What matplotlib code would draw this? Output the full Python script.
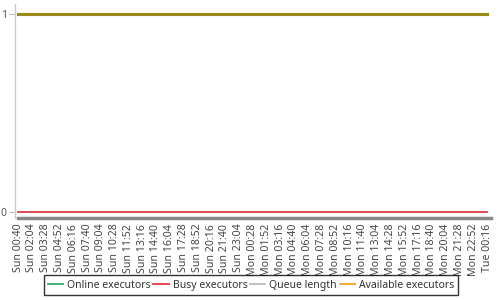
import matplotlib
matplotlib.use("Agg")
import matplotlib.pyplot as plt
from matplotlib.lines import Line2D

plt.rcParams['font.family'] = ['Noto Sans', 'DejaVu Sans']

labels = ["Sun 00:40", "Sun 02:04", "Sun 03:28", "Sun 04:52", "Sun 06:16", "Sun 07:40",
          "Sun 09:04", "Sun 10:28", "Sun 11:52", "Sun 13:16", "Sun 14:40", "Sun 16:04",
          "Sun 17:28", "Sun 18:52", "Sun 20:16", "Sun 21:40", "Sun 23:04", "Mon 00:28",
          "Mon 01:52", "Mon 03:16", "Mon 04:40", "Mon 06:04", "Mon 07:28", "Mon 08:52",
          "Mon 10:16", "Mon 11:40", "Mon 13:04", "Mon 14:28", "Mon 15:52", "Mon 17:16",
          "Mon 18:40", "Mon 20:04", "Mon 21:28", "Mon 22:52", "Tue 00:16"]
online = [1, 1, 1, 1, 1, 1, 1, 1, 1, 1, 1, 1, 1, 1, 1, 1, 1, 1,
          1, 1, 1, 1, 1, 1, 1, 1, 1, 1, 1, 1, 1, 1, 1, 1, 1]
busy = [0, 0, 0, 0, 0, 0, 0, 0, 0, 0, 0, 0, 0, 0, 0, 0, 0, 0,
        0, 0, 0, 0, 0, 0, 0, 0, 0, 0, 0, 0, 0, 0, 0, 0, 0]
queue = [0, 0, 0, 0, 0, 0, 0, 0, 0, 0, 0, 0, 0, 0, 0, 0, 0, 0,
         0, 0, 0, 0, 0, 0, 0, 0, 0, 0, 0, 0, 0, 0, 0, 0, 0]
available = [1, 1, 1, 1, 1, 1, 1, 1, 1, 1, 1, 1, 1, 1, 1, 1, 1, 1,
             1, 1, 1, 1, 1, 1, 1, 1, 1, 1, 1, 1, 1, 1, 1, 1, 1]
series_names = ["Online executors", "Busy executors", "Queue length", "Available executors"]
colors = ["#3aaa6a", "#e0383e", "#bbbbbb", "#f2a51a"]

fig = plt.figure(figsize=(5, 3), dpi=100)
ax = fig.add_axes([0.03, 0.273, 0.952, 0.714])
x = list(range(len(labels)))

ax.plot(x, queue, color=colors[2], lw=1.2)
ax.plot(x, busy, color=colors[1], lw=1.2)
ax.plot(x, available, color=colors[3], lw=2.2)
# overlapping online + available appear olive
ax.plot(x, online, color="#9a8a18", lw=2.2)

ax.set_xlim(-0.22, 34.29)
ax.set_ylim(-0.03, 1.05)
ax.set_yticks([0, 1])
ax.set_yticklabels(["0", "1"])
ax.set_xticks(x)
ax.set_xticklabels(labels, rotation=90, fontsize=7.6, color="#444444")
ax.tick_params(axis='x', length=0, pad=4)
ax.tick_params(axis='y', length=4, color="#bbbbbb", labelsize=7.5, labelcolor="#555555", pad=2)

for s in ["top", "right"]:
    ax.spines[s].set_visible(False)
ax.spines["left"].set_color("#cccccc")
ax.spines["left"].set_linewidth(1)
ax.spines["bottom"].set_color("#888888")
ax.spines["bottom"].set_linewidth(2.5)
ax.spines["bottom"].set_bounds(0, 34.29)

handles = [Line2D([0], [0], color=c, lw=1.3) for c in colors]
leg = fig.legend(handles, series_names, loc="lower center", bbox_to_anchor=(0.502, 0.0),
                 ncol=4, fontsize=7.5, frameon=True, fancybox=False,
                 handlelength=1.45, handletextpad=0.4, columnspacing=0.25,
                 borderpad=0.4, labelcolor="#333333")
leg.get_frame().set_edgecolor("black")
leg.get_frame().set_linewidth(1)

fig.savefig("out.png", dpi=100)
